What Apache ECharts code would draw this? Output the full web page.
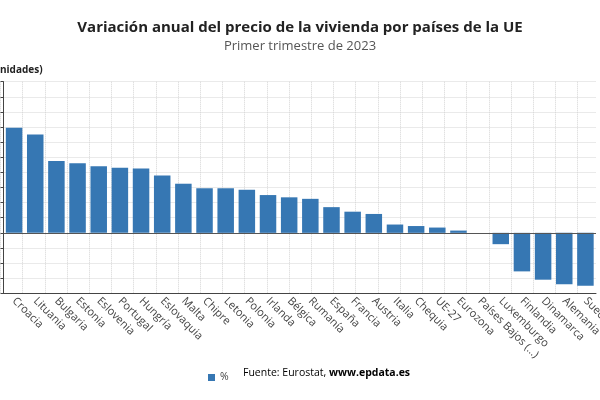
<!DOCTYPE html>
<html>
<head>
<meta charset="utf-8">
<script src="https://cdn.jsdelivr.net/npm/echarts@6/dist/echarts.min.js"></script>
<style>
  html, body { margin: 0; padding: 0; background: #fff; }
  #chart { width: 600px; height: 400px; }
</style>
</head>
<body>
<div id="chart"></div>
<script>
// datos (variacion anual %, 1T 2023)
var paises = ['Croacia', 'Lituania', 'Bulgaria', 'Estonia', 'Eslovenia', 'Portugal', 'Hungría',
  'Eslovaquia', 'Malta', 'Chipre', 'Letonia', 'Polonia', 'Irlanda', 'Bélgica', 'Rumanía', 'España',
  'Francia', 'Austria', 'Italia', 'Chequia', 'UE-27', 'Eurozona', 'Países Bajos (…)', 'Luxemburgo',
  'Finlandia', 'Dinamarca', 'Alemania', 'Suecia'];
var variacion = [13.9, 13.0, 9.5, 9.2, 8.8, 8.6, 8.5, 7.6, 6.5, 5.9, 5.9, 5.7, 5.0, 4.7, 4.5, 3.4,
  2.8, 2.5, 1.1, 0.9, 0.7, 0.3, 0, -1.5, -5.1, -6.2, -6.8, -7.0];
var ejeY = { min: -8, max: 20, paso: 2 };
var serieNombre = '%';
var fuente = 'Fuente: Eurostat, ';
var fuenteWeb = 'www.epdata.es';

var fontBase = '"Open Sans", "Noto Sans", sans-serif';
var azul = '#3677b3';

var chart = echarts.init(document.getElementById('chart'));

chart.setOption({
  animation: false,
  textStyle: { fontFamily: fontBase },
  title: {
    text: 'Variación anual del precio de la vivienda por países de la UE',
    subtext: 'Primer trimestre de 2023',
    left: 'center',
    top: 15,
    itemGap: 5,
    textStyle: { fontSize: 15, fontWeight: 'bold', color: '#222', fontFamily: fontBase },
    subtextStyle: { fontSize: 13, color: '#555', fontFamily: fontBase }
  },
  legend: {
    left: 203,
    top: 367,
    itemWidth: 7,
    itemHeight: 7,
    itemGap: 6,
    icon: 'rect',
    textStyle: { fontSize: 10.5, color: '#444', fontFamily: fontBase },
    data: [serieNombre]
  },
  graphic: [
    {
      type: 'text',
      x: -10,
      y: 70,
      style: {
        text: '(unidades)',
        font: 'bold 10px ' + fontBase,
        fill: '#222',
        textVerticalAlign: 'middle'
      }
    },
    {
      type: 'text',
      x: 243,
      y: 373,
      style: {
        text: '{a|' + fuente + '}{b|' + fuenteWeb + '}',
        textVerticalAlign: 'middle',
        rich: {
          a: { fontSize: 10.5, color: '#444', fontFamily: fontBase },
          b: { fontSize: 10.5, color: '#333', fontWeight: 'bold', fontFamily: fontBase }
        }
      }
    }
  ],
  grid: [
    { left: 3.5, right: 4, top: 81.7, bottom: 106.7, containLabel: false, outerBoundsMode: 'none' },
    // rejilla vertical independiente de las categorias
    { left: 0.4, right: 22.4, top: 81.7, bottom: 106.7, containLabel: false, outerBoundsMode: 'none' }
  ],
  xAxis: [
    {
      type: 'category',
      data: paises,
      gridIndex: 0,
      axisLine: { onZero: false, lineStyle: { color: '#444', width: 1 } },
      axisTick: { alignWithLabel: true, length: 4, lineStyle: { color: '#444' } },
      axisLabel: { rotate: -45, interval: 0, fontSize: 11, color: '#444', margin: 6 },
      splitLine: { show: false }
    },
    {
      type: 'value',
      gridIndex: 1,
      min: 0,
      max: 26,
      interval: 1,
      axisLine: { show: false },
      axisTick: { show: false },
      axisLabel: { show: false },
      splitLine: { show: true, lineStyle: { color: '#d4d4d4', type: 'dotted' } }
    }
  ],
  yAxis: [
    {
      type: 'value',
      gridIndex: 0,
      min: ejeY.min,
      max: ejeY.max,
      interval: ejeY.paso,
      axisLine: { show: true, lineStyle: { color: '#444' } },
      axisTick: { show: true, length: 3, lineStyle: { color: '#444' } },
      axisLabel: { show: true, fontSize: 11, color: '#444' },
      splitLine: { show: true, lineStyle: { color: '#d4d4d4', type: 'dotted' } }
    },
    {
      type: 'value',
      gridIndex: 1,
      show: false,
      min: 0,
      max: 1,
      splitLine: { show: false }
    }
  ],
  series: [
    {
      name: serieNombre,
      type: 'bar',
      xAxisIndex: 0,
      yAxisIndex: 0,
      data: variacion,
      barCategoryGap: '22%',
      itemStyle: { color: azul },
      markLine: {
        silent: true,
        symbol: 'none',
        label: { show: false },
        lineStyle: { color: '#555', type: 'solid', width: 1 },
        data: [{ yAxis: 0 }]
      }
    }
  ]
});
</script>
</body>
</html>
